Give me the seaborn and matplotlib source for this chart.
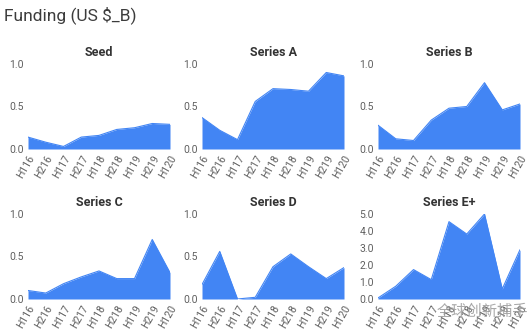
import matplotlib
matplotlib.use("Agg")
import matplotlib.pyplot as plt
import seaborn as sns
import pandas as pd

periods = ["H116", "H216", "H117", "H217", "H118", "H218", "H119", "H219", "H120"]
seed = [0.14, 0.08, 0.03, 0.14, 0.16, 0.23, 0.25, 0.30, 0.29]
series_a = [0.37, 0.22, 0.11, 0.56, 0.71, 0.70, 0.68, 0.90, 0.86]
series_b = [0.28, 0.12, 0.10, 0.34, 0.48, 0.50, 0.78, 0.46, 0.53]
series_c = [0.10, 0.07, 0.18, 0.26, 0.33, 0.24, 0.24, 0.70, 0.31]
series_d = [0.17, 0.56, 0.00, 0.02, 0.38, 0.53, 0.38, 0.24, 0.37]
series_e = [0.06, 0.75, 1.73, 1.14, 4.55, 3.82, 5.00, 0.59, 2.90]

panels = [("Seed", seed, [0.0, 0.5, 1.0]),
          ("Series A", series_a, [0.0, 0.5, 1.0]),
          ("Series B", series_b, [0.0, 0.5, 1.0]),
          ("Series C", series_c, [0.0, 0.5, 1.0]),
          ("Series D", series_d, [0.0, 0.5, 1.0]),
          ("Series E+", series_e, [0.0, 1.0, 2.0, 3.0, 4.0, 5.0])]

sns.set_theme(style="white")
plt.rcParams['font.family'] = ['Roboto', 'Noto Sans CJK SC', 'DejaVu Sans']

fig = plt.figure(figsize=(5.3, 3.35), dpi=100)
color = "#4285F4"
lefts = [28/530, 202/530, 378/530]
bottoms = [1 - 149/335, 1 - 299/335]
w = 142/530
h = 85/335

for i, (name, vals, yt) in enumerate(panels):
    r, c = divmod(i, 3)
    ax = fig.add_axes([lefts[c], bottoms[r], w, h])
    df = pd.DataFrame({"period": periods, "value": vals, "x": range(len(periods))})
    sns.lineplot(data=df, x="x", y="value", ax=ax, color=color, linewidth=0.8)
    ax.fill_between(df["x"], 0, df["value"], color=color, linewidth=0)
    ax.set_xlim(0, len(periods) - 1)
    ax.set_ylim(0, yt[-1])
    ax.set_yticks(yt)
    ax.set_yticklabels([f"{v:.1f}" for v in yt])
    ax.set_xticks(range(len(periods)))
    ax.set_xticklabels(periods, rotation=60, ha="right", rotation_mode="anchor")
    ax.tick_params(axis="both", labelsize=7.5, colors="#5f5f5f", length=0, pad=3)
    ax.set_xlabel("")
    ax.set_ylabel("")
    ax.set_title(name, fontsize=9, fontweight="bold", color="#333333", pad=6)
    sns.despine(ax=ax, left=True, bottom=True)

fig.text(4/530, 1 - 15/335, "Funding (US $_B)", fontsize=12.5, color="#3c3c3c", va="center", ha="left")
fig.text(437/530, 1 - 311/335, "全球创新捕手", fontsize=11, color="#9a9a9a", alpha=0.85,
         va="center", ha="left", family=['Noto Sans CJK SC', 'DejaVu Sans'])

fig.savefig("out.png", dpi=100)
